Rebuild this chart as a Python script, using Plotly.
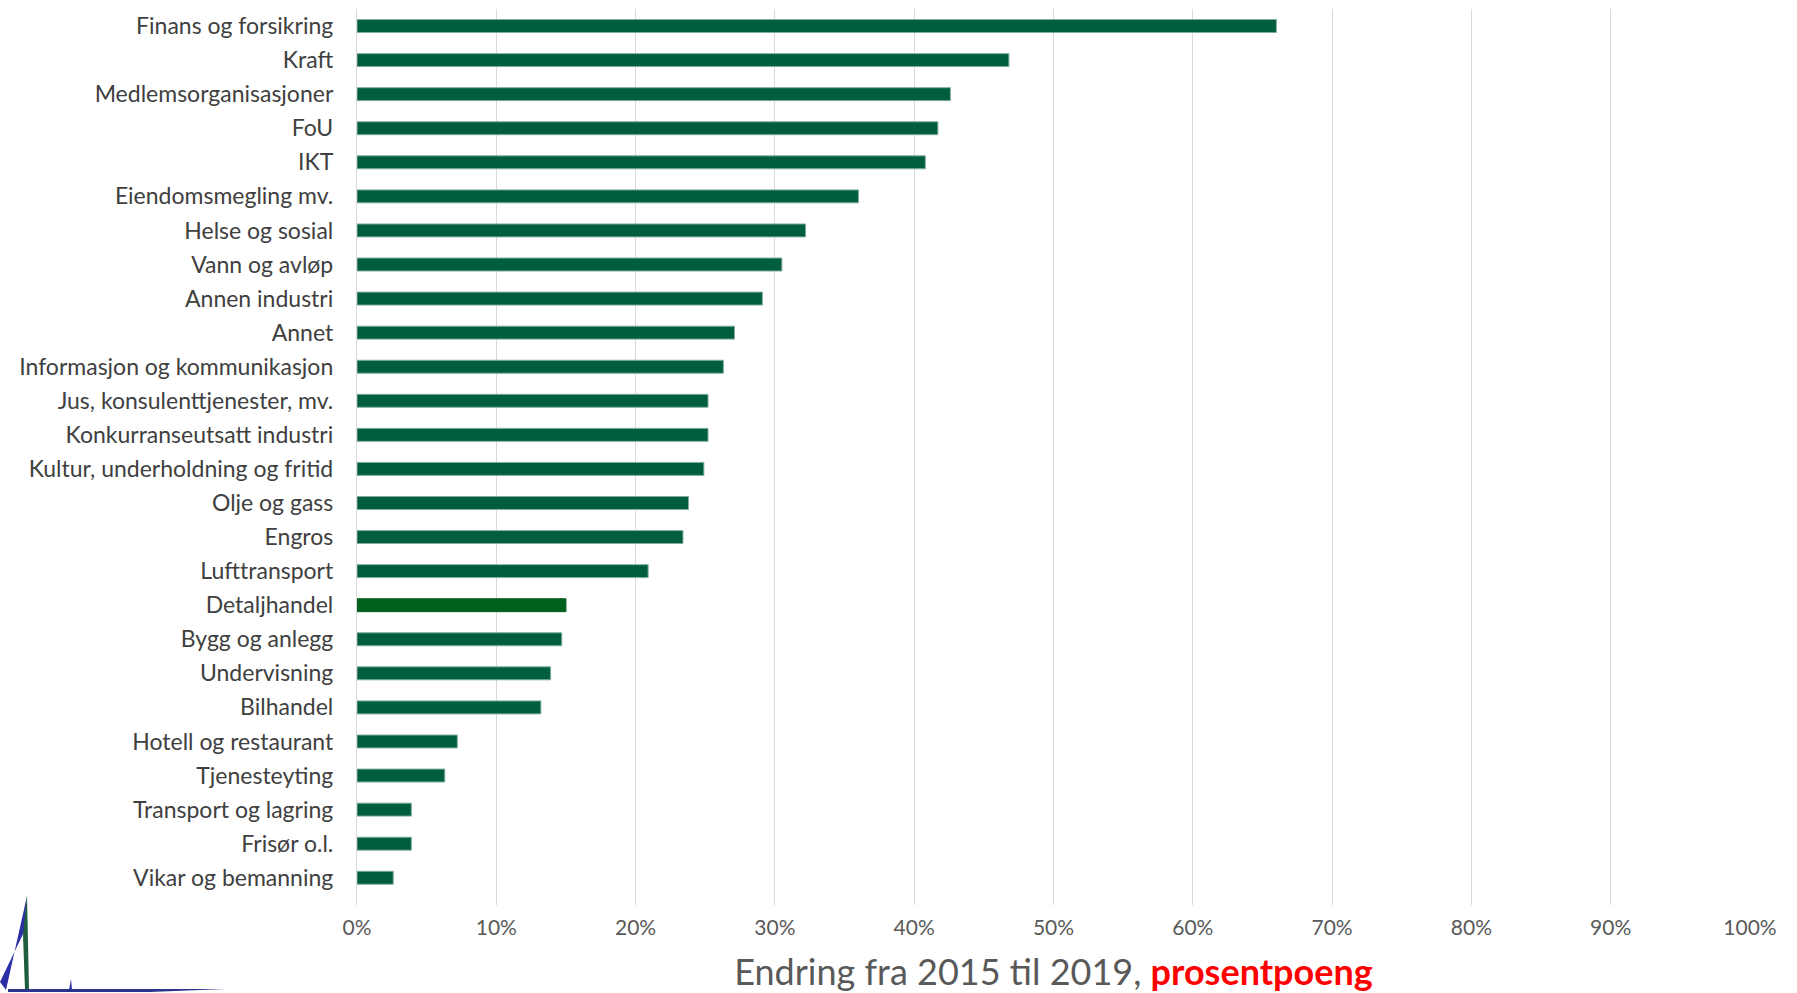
import plotly.graph_objects as go

categories = [
    "Finans og forsikring", "Kraft", "Medlemsorganisasjoner", "FoU", "IKT",
    "Eiendomsmegling mv.", "Helse og sosial", "Vann og avløp", "Annen industri",
    "Annet", "Informasjon og kommunikasjon", "Jus, konsulenttjenester, mv.",
    "Konkurranseutsatt industri", "Kultur, underholdning og fritid", "Olje og gass",
    "Engros", "Lufttransport", "Detaljhandel", "Bygg og anlegg", "Undervisning",
    "Bilhandel", "Hotell og restaurant", "Tjenesteyting", "Transport og lagring",
    "Frisør o.l.", "Vikar og bemanning",
]
values = [
    0.660, 0.468, 0.426, 0.417, 0.408,
    0.360, 0.322, 0.305, 0.291,
    0.271, 0.263, 0.252,
    0.252, 0.249, 0.238,
    0.234, 0.209, 0.150, 0.147, 0.139,
    0.132, 0.072, 0.063, 0.039,
    0.039, 0.026,
]
highlight = "Detaljhandel"
x_ticks = [0, 0.1, 0.2, 0.3, 0.4, 0.5, 0.6, 0.7, 0.8, 0.9, 1.0]
x_ticklabels = ["0%", "10%", "20%", "30%", "40%", "50%", "60%", "70%", "80%", "90%", "100%"]

W, H = 1797, 993
ML, MR, MT, MB = 357, 47, 9, 88

colors = ["#00611F" if c == highlight else "#005E3E" for c in categories]
line_colors = ["#00611F" if c == highlight else "#80AE9C" for c in categories]

fig = go.Figure(go.Bar(
    y=categories, x=values, orientation="h",
    marker=dict(color=colors, line=dict(color=line_colors, width=1)),
    width=0.38,
))

pw, ph = W - ML - MR, H - MT - MB
def px(x):
    return (x - ML) / pw
def py(y):
    return (H - MB - y) / ph

def path(pts):
    return "M " + " L ".join(f"{px(a):.5f},{py(b):.5f}" for a, b in pts) + " Z"

shapes = [
    dict(type="path", xref="paper", yref="paper", path=path([(0, 982), (24, 932), (27, 896), (6, 990)]),
         fillcolor="#2B2FA6", line=dict(width=0)),
    dict(type="path", xref="paper", yref="paper", path=path([(23, 935), (27, 895), (29, 990), (25, 990)]),
         fillcolor="#1E5E3E", line=dict(width=0)),
    dict(type="path", xref="paper", yref="paper", path=path([(8, 989), (225, 989), (150, 992), (8, 992)]),
         fillcolor="#2B3590", line=dict(width=0)),
    dict(type="path", xref="paper", yref="paper", path=path([(69, 990), (71, 979), (72, 990)]),
         fillcolor="#2B2FA6", line=dict(width=0)),
]

fig.update_layout(
    width=W, height=H,
    margin=dict(l=ML, r=MR, t=MT, b=MB, pad=0, autoexpand=False),
    paper_bgcolor="white", plot_bgcolor="white",
    showlegend=False,
    font=dict(family="Lato, Carlito, sans-serif", color="#404040"),
    shapes=shapes,
    xaxis=dict(
        range=[0, 1.0], tickvals=x_ticks, ticktext=x_ticklabels,
        showgrid=True, gridcolor="#D9D9D9", gridwidth=1.3,
        zeroline=False, showline=False, automargin=False,
        tickfont=dict(size=21, color="#595959"),
        ticks="outside", ticklen=4, tickcolor="rgba(0,0,0,0)",
        title=dict(
            text="Endring fra 2015 til 2019, <span style='color:#FF0000'><b>prosentpoeng</b></span>",
            font=dict(size=36, color="#595959"), standoff=23,
        ),
    ),
    yaxis=dict(
        categoryorder="array", categoryarray=categories,
        range=[25.8, -0.5], automargin=False,
        tickfont=dict(size=23, color="#404040"),
        showgrid=False, zeroline=False,
        showline=True, linecolor="#D9D9D9", linewidth=1.3,
        ticks="outside", ticklen=18, tickcolor="rgba(0,0,0,0)",
    ),
)

fig.write_html("out.html", config={"displayModeBar": False},
               post_script="document.body.style.margin='0px';document.body.style.overflow='hidden';")
